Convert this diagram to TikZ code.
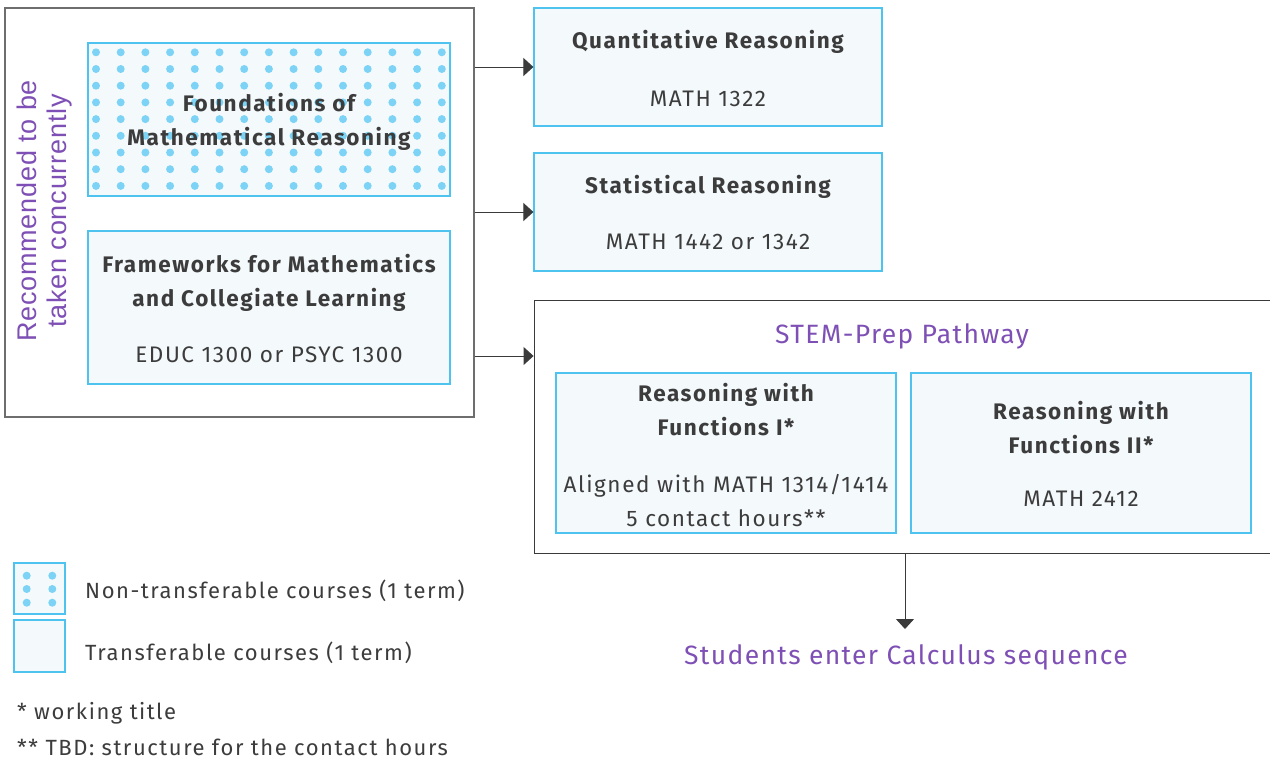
\documentclass[tikz,border=0pt]{standalone}
\usepackage{fontspec}
\setmainfont{Fira Sans}[LetterSpace=7]
\newfontfamily\purpfont{Fira Sans}[LetterSpace=5]
\newfontfamily\recfont{Liberation Sans}[LetterSpace=3]
\usetikzlibrary{arrows.meta}
\definecolor{txt}{HTML}{3C3C3C}
\definecolor{purp}{HTML}{7E4FB4}
\definecolor{bbord}{HTML}{4FC3F0}
\definecolor{bfill}{HTML}{F4F9FC}
\definecolor{dotc}{HTML}{7DD3F5}
\definecolor{framec}{HTML}{3A3A3A}
\definecolor{grayframe}{HTML}{6E6E6E}
\begin{document}
\begin{tikzpicture}[x=1pt,y=-1pt,
  course/.style={draw=bbord, fill=bfill, line width=1.2pt, inner sep=0pt},
  grp/.style={draw=framec, line width=0.9pt, inner sep=0pt},
  ttl/.style={font=\fontsize{22.5}{34}\selectfont\bfseries, text=txt, align=center, inner sep=0pt},
  sub/.style={font=\fontsize{22.5}{34}\selectfont, text=txt, align=center, inner sep=0pt},
  purptxt/.style={font=\purpfont\fontsize{26.5}{30}\selectfont, text=purp, align=center, inner sep=0pt},
  leg/.style={font=\fontsize{22}{26}\selectfont, text=txt, anchor=west, inner sep=0pt},
  arr/.style={-{Triangle[length=10pt,width=18pt]}, draw=framec, line width=1pt}]
\path[use as bounding box] (0,0) rectangle (1270,761);
% left group
\node[grp, draw=grayframe, line width=1.1pt, minimum width=469, minimum height=409] (left) at (239.5,212.5) {};
\node[course, minimum width=362, minimum height=153] (found) at (269,119.5) {};
\foreach \i in {0,...,14} \foreach \j in {0,...,8}
  \fill[dotc] (96+\i*24.7, 52.3+\j*16.7) circle (4);
\node[ttl] (foundt) at (269,121.5) {Foundations of\\Mathematical Reasoning};
\node[course, minimum width=362, minimum height=153] (frame) at (269,307.5) {};
\node[ttl] (framet) at (269,282.5) {Frameworks for Mathematics\\and Collegiate Learning};
\node[sub] (frames) at (269,354.5) {EDUC 1300 or PSYC 1300};
\node[text=purp, align=center, inner sep=0pt, rotate=90, font=\recfont\fontsize{27}{30}\selectfont] (rec) at (45,211) {Recommended to be\\taken concurrently};
% right boxes
\node[course, minimum width=348, minimum height=118] (qr) at (708,67) {};
\node[ttl] (qrt) at (708,42) {Quantitative Reasoning};
\node[sub] (qrs) at (708,98.5) {MATH 1322};
\node[course, minimum width=348, minimum height=118] (sr) at (708,212) {};
\node[ttl] (srt) at (708,187) {Statistical Reasoning};
\node[sub] (srs) at (708,241.5) {MATH 1442 or 1342};
% STEM
\node[grp, minimum width=736, minimum height=253] (stem) at (902,426.5) {};
\node[purptxt] (stemt) at (902,336.5) {STEM-Prep Pathway};
\node[course, minimum width=340, minimum height=160] (rf1) at (726,453) {};
\node[ttl] (rf1t) at (726,410) {Reasoning with\\Functions I*};
\node[sub] (rf1s) at (726,500.5) {Aligned with MATH 1314/1414\\5 contact hours**};
\node[course, minimum width=340, minimum height=160] (rf2) at (1081,453) {};
\node[ttl] (rf2t) at (1081,427.5) {Reasoning with\\Functions II*};
\node[sub] (rf2s) at (1081,498.5) {MATH 2412};
\node[purptxt] (calc) at (906,657.5) {Students enter Calculus sequence};
% arrows
\draw[arr] (left.east |- qr.west) -- (qr.west);
\draw[arr] (left.east |- sr.west) -- (sr.west);
\draw[arr] (left.east |- 0,356) -- (stem.west |- 0,356);
\coordinate (calctop) at (905,629);
\draw[arr] (stem.south -| calctop) -- (calctop);
% legend
\node[course, minimum width=51, minimum height=51] (lg1) at (39.5,588.5) {};
\foreach \xx in {26.7,52.3} \foreach \yy in {575.7,589,602.7}
  \fill[dotc] (\xx,\yy) circle (4);
\node[course, minimum width=51, minimum height=52] (lg2) at (39.5,646) {};
\node[leg] (lg1t) at (85,590.5) {Non-transferable courses (1 term)};
\node[leg] (lg2t) at (85,652.5) {Transferable courses (1 term)};
\node[leg] (fn1) at (17,713.5) {* working title};
\node[leg] (fn2) at (17,747.5) {** TBD: structure for the contact hours};
\end{tikzpicture}
\end{document}
